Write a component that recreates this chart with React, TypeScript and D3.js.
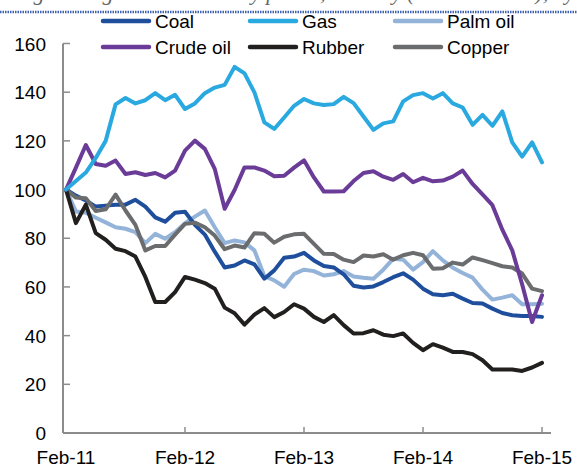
import React from "react";
import * as d3 from "d3";

const months = d3.range(49);
const tickLabels = ["Feb-11", "Feb-12", "Feb-13", "Feb-14", "Feb-15"];
const tickIdx = [0, 12, 24, 36, 48];
const yTicks = [0, 20, 40, 60, 80, 100, 120, 140, 160];

const coal = [100, 97.5, 95.5, 93, 93.4, 93.8, 93.8, 95.8, 93, 88.6, 86.8, 90.5, 90.9, 85.5, 81.5, 74.5, 68, 68.8, 70.9, 69.3, 63.4, 66.8, 72, 72.5, 74, 70.9, 68.6, 68, 65.2, 60.5, 59.8, 60.2, 62, 64, 65.6, 63, 59.3, 57, 56.6, 57.2, 55.2, 53.4, 53.2, 51.1, 49.3, 48.4, 48.1, 48.1, 47.7];
const gas = [100, 103.5, 107, 113, 120, 135, 137.6, 135.4, 136.7, 139.6, 136.7, 138.9, 133.1, 135.4, 139.6, 141.9, 143, 150.4, 147.7, 139.9, 127.6, 124.9, 129.6, 134.4, 137.2, 135.4, 134.7, 135.1, 138.1, 135.5, 130, 124.5, 127.2, 128, 136.2, 138.8, 139.6, 137.4, 139.6, 135.4, 133.7, 126.6, 130.7, 126.2, 132.1, 119.4, 113.5, 119.4, 111.2];
const palm = [100, 91, 90.5, 88.4, 86.5, 84.5, 83.9, 82.5, 78, 81.8, 79.8, 82.5, 86.2, 88.9, 91.4, 84.5, 78, 79.1, 78.3, 75, 64.5, 62.7, 60.1, 65.3, 67.1, 66.5, 64.7, 65.2, 66.5, 64.3, 63.8, 63.4, 67.1, 71.6, 71.2, 67.1, 70.2, 74.7, 70.9, 67.9, 65.7, 63.8, 58.9, 54.8, 55.6, 56.6, 52.9, 52.9, 53.1];
const crude = [100, 109, 118.3, 110.5, 109.8, 111.9, 106.4, 107.1, 106, 106.8, 105, 107.8, 116, 120.1, 116.7, 108.5, 92.1, 99.8, 109.1, 109.1, 107.8, 105.5, 105.7, 109, 112, 105, 99.2, 99.2, 99.3, 103.5, 106.8, 107.5, 105.3, 104, 106.4, 103, 104.8, 103.4, 103.7, 105.3, 107.8, 102.3, 98, 93.6, 83.5, 75, 61, 45.6, 56.6];
const rubber = [100, 86.2, 93.8, 82.1, 79.4, 75.7, 74.7, 72.5, 64.1, 53.8, 53.8, 57.9, 64.1, 63, 61.6, 59.3, 51.5, 49.2, 44.5, 48.6, 51.3, 47.6, 49.7, 52.9, 51.1, 47.7, 45.6, 48.4, 44.3, 40.9, 41, 42.2, 40.4, 39.8, 40.9, 37, 34, 36.5, 35.1, 33.3, 33.3, 32.4, 29.9, 26.1, 26.1, 26.1, 25.5, 26.9, 28.8];
const copper = [100, 96.7, 96.4, 91.2, 91.9, 97.9, 91.4, 85.5, 75, 76.8, 76.8, 81.5, 85.9, 86.4, 84.5, 81.1, 75.5, 77, 76.2, 82.1, 81.8, 78.2, 80.6, 81.6, 81.8, 77.7, 73.6, 73.5, 71.2, 70.2, 72.9, 72.5, 73.4, 71.2, 73, 74, 73, 67.5, 67.7, 70, 69.2, 72.1, 71, 69.8, 68.5, 68, 65.5, 59.3, 58.3];

const seriesNames = ["Coal", "Gas", "Palm oil", "Crude oil", "Rubber", "Copper"];
const seriesData = [coal, gas, palm, crude, rubber, copper];
const seriesColors = ["#1f4f9c", "#2aa9e0", "#93b3d9", "#6a3c98", "#221f1f", "#6b6c6e"];
const drawOrder = [2, 0, 5, 4, 3, 1];

export default function App() {
  const W = 577, H = 468;
  const x = d3.scaleLinear().domain([0, 48]).range([66, 542]);
  const y = d3.scaleLinear().domain([0, 160]).range([433, 43.5]);
  const line = d3.line<number>().x((_, i) => x(months[i])).y((d) => y(d));
  const axisColor = "#8c8c8c";
  const font = "'Liberation Sans', Arial, sans-serif";
  const legendX = [103, 250, 395];
  const legendY = [21, 47];

  return (
    <svg width={W} height={H} style={{ position: "absolute", left: 0, top: 0, background: "#fff" }}>
      <text x={14} y={0} fontFamily="'Liberation Serif', serif" fontStyle="italic" fontSize={22} fill="#666">
        Figure 3: global commodity prices, monthly (Feb-11 = 100), by type
      </text>
      <line x1={0} x2={W} y1={12} y2={12} stroke="#3f62b0" strokeWidth={2.5} strokeDasharray="1.5 1" />

      {seriesNames.map((name, k) => {
        const lx = legendX[k % 3];
        const ly = legendY[Math.floor(k / 3)];
        return (
          <g key={name}>
            <line x1={lx} x2={lx + 46} y1={ly} y2={ly} stroke={seriesColors[k]} strokeWidth={4.5} strokeLinecap="round" />
            <text x={lx + 52} y={ly + 7} fontFamily={font} fontSize={19} fill="#000">{name}</text>
          </g>
        );
      })}

      <line x1={63} x2={63} y1={y(160)} y2={y(0)} stroke={axisColor} strokeWidth={2} />
      <line x1={63} x2={551} y1={y(0)} y2={y(0)} stroke={axisColor} strokeWidth={2} />
      {yTicks.map((t) => (
        <g key={t}>
          <line x1={63} x2={70} y1={y(t)} y2={y(t)} stroke={axisColor} strokeWidth={1.5} />
          <text x={46} y={y(t) + 7} textAnchor="end" fontFamily={font} fontSize={19} fill="#000">{t}</text>
        </g>
      ))}
      {tickIdx.map((t, k) => (
        <g key={t}>
          {k > 0 && <line x1={x(t)} x2={x(t)} y1={y(0)} y2={y(0) - 6} stroke={axisColor} strokeWidth={1.5} />}
          <text x={x(t)} y={464} textAnchor="middle" fontFamily={font} fontSize={19} fill="#000">{tickLabels[k]}</text>
        </g>
      ))}

      {drawOrder.map((k) => (
        <path key={k} d={line(seriesData[k]) || ""} fill="none" stroke={seriesColors[k]} strokeWidth={4} strokeLinejoin="round" strokeLinecap="round" />
      ))}
    </svg>
  );
}
